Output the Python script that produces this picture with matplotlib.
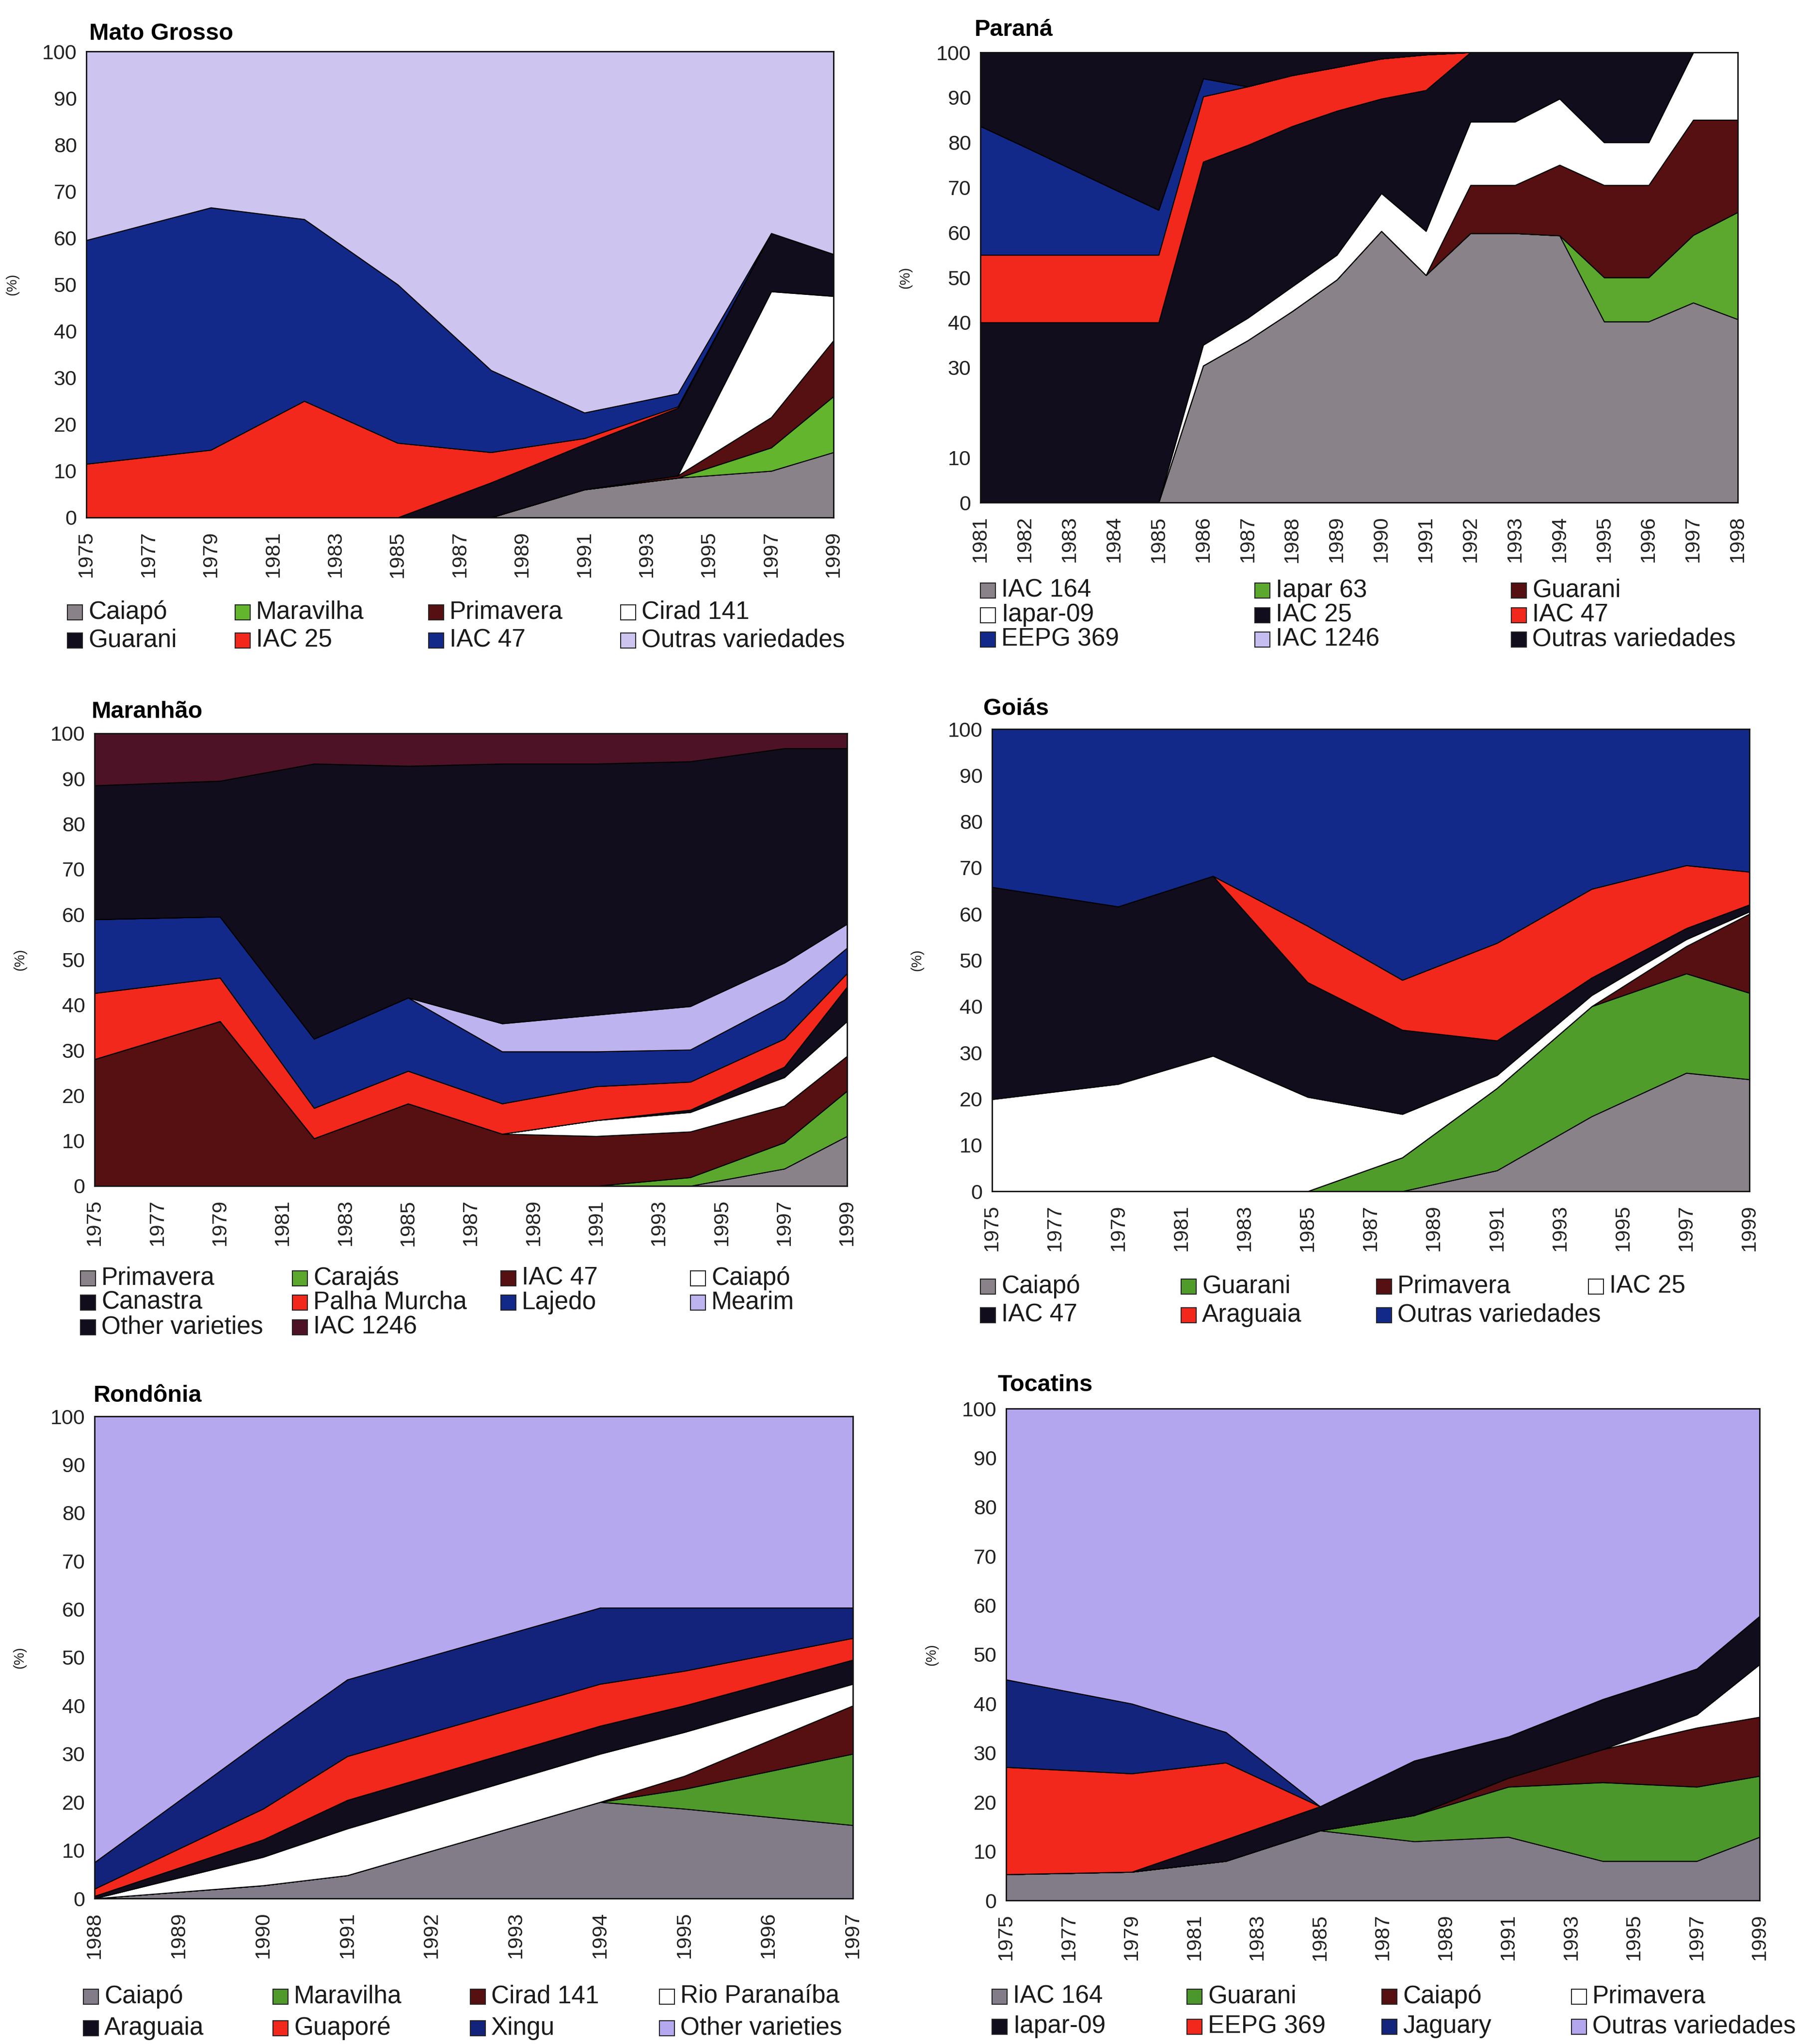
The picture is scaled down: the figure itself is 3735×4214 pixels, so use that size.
import matplotlib
matplotlib.use('Agg')
import matplotlib.pyplot as plt
from matplotlib.patches import Rectangle

W, H = 3735, 4214

# ---- Mato Grosso ----
mt_years = [1975, 1979, 1982, 1985, 1988, 1991, 1994, 1997, 1999]
mt_caiapo = [0, 0, 0, 0, 0, 6, 8.5, 10, 14]
mt_maravilha = [0, 0, 0, 0, 0, 0, 0, 5, 12]
mt_primavera = [0, 0, 0, 0, 0, 0, 0.5, 6.5, 12]
mt_cirad141 = [0, 0, 0, 0, 0, 0, 0, 27, 9.5]
mt_guarani = [0, 0, 0, 0, 7.5, 9.7, 14.5, 12.5, 9]
mt_iac25 = [11.5, 14.5, 25, 16, 6.5, 1.3, 0.3, 0, 0]
mt_iac47 = [48, 52, 39, 34, 17.6, 5.5, 2.8, 0, 0]
mt_outras = [40.5, 33.5, 36, 50, 68.4, 77.5, 73.4, 39, 43.5]
mt_labels = ['Caiapó', 'Maravilha', 'Primavera', 'Cirad 141',
             'Guarani', 'IAC 25', 'IAC 47', 'Outras variedades']

# ---- Paraná ----
pr_years = list(range(1981, 1999))
pr_iac164 = [0, 0, 0, 0, 0, 30.4, 36, 42.5, 49.5, 60.3, 50.5, 59.8, 59.8, 59.3, 40.2, 40.2, 44.4, 40.7]
pr_iapar63 = [0, 0, 0, 0, 0, 0, 0, 0, 0, 0, 0, 0, 0, 0, 9.8, 9.8, 15, 23.8]
pr_guarani = [0, 0, 0, 0, 0, 0, 0, 0, 0, 0, 0, 10.7, 10.7, 15.7, 20.5, 20.5, 25.6, 20.5]
pr_iapar09 = [0, 0, 0, 0, 0, 4.6, 5, 5.5, 5.5, 8.4, 9.8, 14.1, 14.1, 14.7, 9.5, 9.5, 15, 15]
pr_iac25 = [40, 40, 40, 40, 40, 40.7, 38.4, 35.6, 32, 21, 31.3, 15.4, 15.4, 10.3, 20, 20, 0, 0]
pr_iac47 = [15, 15, 15, 15, 15, 14.5, 13, 11.3, 9.7, 8.9, 7.9, 0, 0, 0, 0, 0, 0, 0]
pr_eepg369 = [28.6, 24, 19.3, 14.6, 10, 4, 0, 0, 0, 0, 0, 0, 0, 0, 0, 0, 0, 0]
pr_iac1246 = [0] * 18
pr_outras = [16.4, 21, 25.7, 30.4, 35, 5.8, 7.6, 5.1, 3.3, 1.4, 0.5, 0, 0, 0, 0, 0, 0, 0]
pr_labels = ['IAC 164', 'Iapar 63', 'Guarani', 'Iapar-09', 'IAC 25', 'IAC 47',
             'EEPG 369', 'IAC 1246', 'Outras variedades']

# ---- Maranhão ----
ma_years = [1975, 1979, 1982, 1985, 1988, 1991, 1994, 1997, 1999]
ma_primavera = [0, 0, 0, 0, 0, 0, 0, 3.8, 11]
ma_carajas = [0, 0, 0, 0, 0, 0, 1.9, 5.8, 10]
ma_iac47 = [28, 36.4, 10.5, 18.2, 11.5, 11, 10.1, 8.1, 7.7]
ma_caiapo = [0, 0, 0, 0, 0, 3.5, 4.3, 6.3, 7.7]
ma_canastra = [0, 0, 0, 0, 0, 0, 0.5, 2.3, 7.6]
ma_palha = [14.6, 9.6, 6.7, 7.2, 6.7, 7.5, 6.2, 6.2, 3]
ma_lajedo = [16.3, 13.5, 15.3, 16.2, 11.5, 7.7, 7.1, 8.6, 5.6]
ma_mearim = [0, 0, 0, 0, 6.2, 8.1, 9.6, 8.2, 5.3]
ma_other = [29.6, 30, 60.8, 51.2, 57.4, 55.5, 54.1, 47.4, 38.8]
ma_iac1246 = [11.5, 10.5, 6.7, 7.2, 6.7, 6.7, 6.2, 3.3, 3.3]
ma_labels = ['Primavera', 'Carajás', 'IAC 47', 'Caiapó', 'Canastra', 'Palha Murcha',
             'Lajedo', 'Mearim', 'Other varieties', 'IAC 1246']

# ---- Goiás ----
go_years = [1975, 1979, 1982, 1985, 1988, 1991, 1994, 1997, 1999]
go_caiapo = [0, 0, 0, 0, 0, 4.5, 16.2, 25.6, 24.2]
go_guarani = [0, 0, 0, 0, 7.3, 17.8, 23.8, 21.5, 18.7]
go_primavera = [0, 0, 0, 0, 0, 0, 0, 5.9, 17.1]
go_iac25 = [19.9, 23.2, 29.3, 20.4, 9.4, 2.8, 2.4, 1.5, 0.5]
go_iac47 = [45.9, 38.4, 38.9, 24.8, 18.2, 7.5, 3.8, 2.4, 1.5]
go_araguaia = [0, 0, 0, 12.2, 10.8, 21.1, 19.2, 13.6, 7.1]
go_outras = [34.2, 38.4, 31.8, 42.6, 54.3, 46.3, 34.6, 29.5, 30.9]
go_labels = ['Caiapó', 'Guarani', 'Primavera', 'IAC 25', 'IAC 47', 'Araguaia',
             'Outras variedades']

# ---- Rondônia ----
ro_years = [1988, 1990, 1991, 1994, 1995, 1997]
ro_caiapo = [0, 2.7, 4.8, 20, 18.6, 15.2]
ro_maravilha = [0, 0, 0, 0, 4.1, 14.8]
ro_cirad141 = [0, 0, 0, 0, 2.7, 10]
ro_rio = [0, 5.9, 9.7, 10, 9.1, 4.5]
ro_araguaia = [0.5, 3.6, 5.9, 5.8, 5.5, 5]
ro_guapore = [1.5, 6.4, 9.1, 8.7, 7.2, 4.5]
ro_xingu = [5.5, 14.4, 15.9, 15.8, 13.1, 6.3]
ro_other = [92.5, 67, 54.6, 39.7, 39.7, 39.7]
ro_labels = ['Caiapó', 'Maravilha', 'Cirad 141', 'Rio Paranaíba', 'Araguaia', 'Guaporé',
             'Xingu', 'Other varieties']

# ---- Tocatins ----
to_years = [1975, 1979, 1982, 1985, 1988, 1991, 1994, 1997, 1999]
to_iac164 = [5.3, 5.8, 8, 14.2, 12, 12.9, 8, 8, 12.9]
to_guarani = [0, 0, 0, 0, 5.3, 10.2, 16, 15.1, 12.4]
to_caiapo = [0, 0, 0, 0, 0, 1.8, 6.7, 12, 12]
to_primavera = [0, 0, 0, 0, 0, 0, 0, 2.7, 10.7]
to_iapar09 = [0, 0, 4.4, 4.9, 11.1, 8.4, 10.2, 9.3, 9.8]
to_eepg369 = [21.8, 20, 15.6, 0, 0, 0, 0, 0, 0]
to_jaguary = [17.8, 14.2, 6.2, 0, 0, 0, 0, 0, 0]
to_outras = [55.1, 60, 65.8, 80.9, 71.6, 66.7, 59.1, 52.9, 42.2]
to_labels = ['IAC 164', 'Guarani', 'Caiapó', 'Primavera', 'Iapar-09', 'EEPG 369',
             'Jaguary', 'Outras variedades']

# colours
GRAY = '#8a8289'
GREEN = '#5ca82e'
DKRED = '#561011'
WHITE = '#ffffff'
BLACK = '#110d1c'
RED = '#f2281c'
BLUE = '#13298a'
LAV = '#c6bdf1'
MAROON = '#4e1226'

FONT = ['Liberation Sans', 'DejaVu Sans']


def px_box(left, top, right, bottom):
    return [left / W, 1 - bottom / H, (right - left) / W, (bottom - top) / H]


def draw_panel(fig, box, title, title_xy, years, series, colors, xticks, yticks):
    ax = fig.add_axes(px_box(*box))
    ax.stackplot(years, *series, colors=colors, edgecolor='black', linewidth=1.5)
    ax.set_xlim(years[0], years[-1])
    ax.set_ylim(0, 100)
    ax.set_xticks(xticks)
    ax.set_xticklabels([str(x) for x in xticks], rotation=90, fontsize=31,
                       family=FONT, color='#222222')
    ax.set_yticks(yticks)
    ax.set_yticklabels([str(y) for y in yticks], fontsize=31, family=FONT, color='#222222')
    ax.tick_params(axis='both', length=0)
    ax.tick_params(axis='x', pad=20)
    ax.tick_params(axis='y', pad=14)
    for sp in ax.spines.values():
        sp.set_linewidth(2)
        sp.set_color('#111111')
    ax.set_ylabel('(%)', fontsize=21, family=FONT, color='#222222')
    ax.yaxis.set_label_coords(-0.09, 0.5)
    fig.text(title_xy[0] / W, 1 - title_xy[1] / H, title, fontsize=35, fontweight='bold',
             family=FONT, ha='left', va='center')
    return ax


def draw_legend(fig, labels, colors, col_x, row_y, fontsize=37):
    ncol = len(col_x)
    s = 31
    for i, (lab, col) in enumerate(zip(labels, colors)):
        r, c = divmod(i, ncol)
        x = col_x[c]
        y = row_y[r]
        fig.patches.append(Rectangle((x / W, 1 - (y + s / 2) / H), s / W, s / H,
                                     transform=fig.transFigure, facecolor=col,
                                     edgecolor='#222222', linewidth=1.5))
        fig.text((x + s + 12) / W, 1 - y / H, lab, fontsize=fontsize, family=FONT,
                 ha='left', va='center', color='#1a1a1a')


fig = plt.figure(figsize=(W / 100, H / 100), dpi=100)
fig.patch.set_facecolor('white')

odd_years = list(range(1975, 2000, 2))
ticks100 = list(range(0, 101, 10))

# Mato Grosso
mt_colors = [GRAY, '#62b52c', DKRED, WHITE, BLACK, RED, BLUE, '#cdc4f0']
draw_panel(fig, (178, 106, 1719, 1067), 'Mato Grosso', (184, 69), mt_years,
           [mt_caiapo, mt_maravilha, mt_primavera, mt_cirad141, mt_guarani, mt_iac25,
            mt_iac47, mt_outras], mt_colors, odd_years, ticks100)
draw_legend(fig, mt_labels, mt_colors, [139, 485, 884, 1280], [1262, 1320])

# Paraná
pr_colors = [GRAY, GREEN, DKRED, WHITE, BLACK, RED, BLUE, LAV, BLACK]
draw_panel(fig, (2022, 108, 3584, 1036), 'Paraná', (2010, 61), pr_years,
           [pr_iac164, pr_iapar63, pr_guarani, pr_iapar09, pr_iac25, pr_iac47,
            pr_eepg369, pr_iac1246, pr_outras], pr_colors, pr_years,
           [0, 10, 30, 40, 50, 60, 70, 80, 90, 100])
draw_legend(fig, pr_labels, pr_colors, [2022, 2588, 3117], [1217, 1268, 1318])

# Maranhão
ma_colors = [GRAY, GREEN, DKRED, WHITE, BLACK, RED, BLUE, '#bdb3ef', BLACK, MAROON]
draw_panel(fig, (195, 1512, 1747, 2445), 'Maranhão', (189, 1467), ma_years,
           [ma_primavera, ma_carajas, ma_iac47, ma_caiapo, ma_canastra, ma_palha,
            ma_lajedo, ma_mearim, ma_other, ma_iac1246], ma_colors, odd_years, ticks100)
draw_legend(fig, ma_labels, ma_colors, [166, 603, 1033, 1424], [2635, 2685, 2736])

# Goiás
go_colors = [GRAY, '#4f9c2b', DKRED, WHITE, BLACK, RED, BLUE]
draw_panel(fig, (2046, 1503, 3608, 2456), 'Goiás', (2028, 1462), go_years,
           [go_caiapo, go_guarani, go_primavera, go_iac25, go_iac47, go_araguaia,
            go_outras], go_colors, odd_years, ticks100)
draw_legend(fig, go_labels, go_colors, [2022, 2436, 2839, 3276], [2652, 2711])

# Rondônia
ro_colors = ['#827c88', '#4f9a2b', DKRED, WHITE, BLACK, RED, '#13237c', '#b5a8ee']
draw_panel(fig, (195, 2920, 1759, 3914), 'Rondônia', (193, 2877), ro_years,
           [ro_caiapo, ro_maravilha, ro_cirad141, ro_rio, ro_araguaia, ro_guapore,
            ro_xingu, ro_other], ro_colors, list(range(1988, 1998)), ticks100)
draw_legend(fig, ro_labels, ro_colors, [172, 563, 970, 1360], [4116, 4181])

# Tocatins
to_colors = ['#827c88', '#4c972b', DKRED, WHITE, BLACK, RED, '#13247c', '#b4a6ee']
draw_panel(fig, (2075, 2904, 3629, 3918), 'Tocatins', (2058, 2856), to_years,
           [to_iac164, to_guarani, to_caiapo, to_primavera, to_iapar09, to_eepg369,
            to_jaguary, to_outras], to_colors, odd_years, ticks100)
draw_legend(fig, to_labels, to_colors, [2046, 2448, 2850, 3241], [4116, 4178])

fig.savefig('out.png', dpi=100)
